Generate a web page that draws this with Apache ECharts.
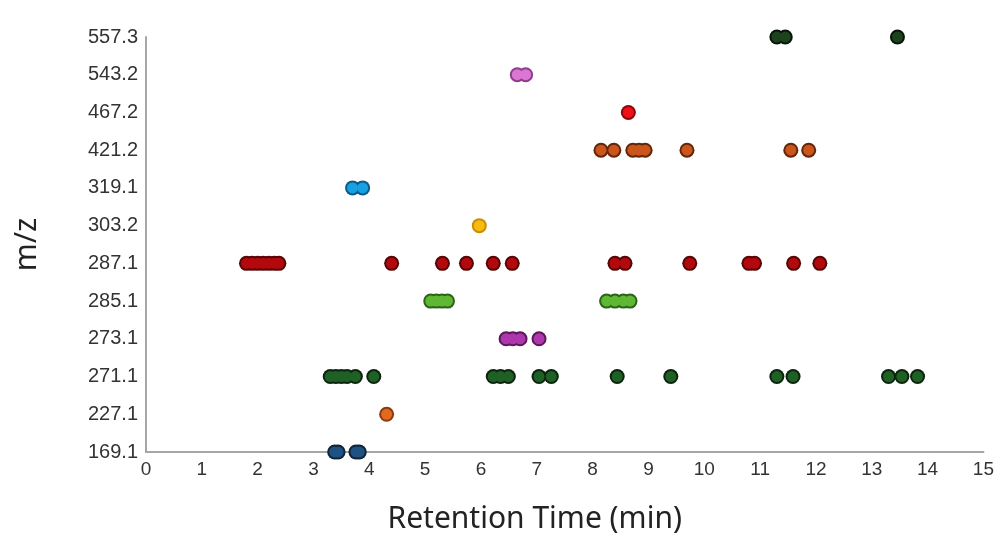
<!DOCTYPE html>
<html>
<head>
<meta charset="utf-8">
<script src="https://cdn.jsdelivr.net/npm/echarts@6/dist/echarts.min.js"></script>
<style>
  html, body { margin: 0; padding: 0; background: #fff; }
  #chart { width: 997px; height: 539px; }
</style>
</head>
<body>
<div id="chart"></div>
<script>
// m/z categories, bottom to top
var mzLabels = ['169.1', '227.1', '271.1', '273.1', '285.1', '287.1', '303.2', '319.1', '421.2', '467.2', '543.2', '557.3'];

// retention times (min), one list per m/z
var rt169 = [3.38, 3.44, 3.76, 3.82];
var rt227 = [4.31];
var rt271 = [3.3, 3.4, 3.5, 3.6, 3.75, 4.08, 6.22, 6.35, 6.49, 7.04, 7.26, 8.44, 9.4, 11.3, 11.59, 13.3, 13.54, 13.82];
var rt273 = [6.45, 6.57, 6.7, 7.04];
var rt285 = [5.1, 5.2, 5.3, 5.4, 8.25, 8.4, 8.55, 8.67];
var rt287 = [1.8, 1.9, 2.0, 2.1, 2.2, 2.3, 2.38, 4.4, 5.31, 5.74, 6.22, 6.56, 8.4, 8.58, 9.74, 10.8, 10.9, 11.6, 12.07];
var rt303 = [5.97];
var rt319 = [3.7, 3.88];
var rt421 = [8.15, 8.38, 8.72, 8.83, 8.94, 9.69, 11.55, 11.87];
var rt467 = [8.64];
var rt543 = [6.65, 6.8];
var rt557 = [11.3, 11.45, 13.46];

// fill, outline
var colors = {
  '169.1': ['#1d5282', '#0f2236'],
  '227.1': ['#e2691e', '#8a3a10'],
  '271.1': ['#1f6124', '#0c240e'],
  '273.1': ['#ae37ad', '#5a1858'],
  '285.1': ['#5fb834', '#2c6416'],
  '287.1': ['#b3090d', '#560606'],
  '303.2': ['#f8bb12', '#c98f00'],
  '319.1': ['#18a0e2', '#0b5c8a'],
  '421.2': ['#cb561b', '#62260a'],
  '467.2': ['#ee1016', '#8c0808'],
  '543.2': ['#da76d4', '#8e3e8a'],
  '557.3': ['#1c421e', '#081509']
};

var rtByMz = {
  '169.1': rt169, '227.1': rt227, '271.1': rt271, '273.1': rt273,
  '285.1': rt285, '287.1': rt287, '303.2': rt303, '319.1': rt319,
  '421.2': rt421, '467.2': rt467, '543.2': rt543, '557.3': rt557
};

// each m/z drawn twice: dark outline underneath, fill on top, so runs merge into pills
var series = [];
mzLabels.forEach(function (mz) {
  var pts = rtByMz[mz].map(function (t) { return [t, mz]; });
  series.push({
    name: mz,
    type: 'scatter',
    silent: true,
    symbolSize: 15,
    z: 2,
    itemStyle: { color: colors[mz][1], opacity: 1 },
    data: pts
  });
  series.push({
    name: mz,
    type: 'scatter',
    silent: true,
    symbolSize: 11,
    z: 3,
    itemStyle: { color: colors[mz][0], opacity: 1 },
    data: pts
  });
});

var myChart = echarts.init(document.getElementById('chart'));
myChart.setOption({
  backgroundColor: '#fff',
  animation: false,
  grid: { left: 146, right: 12, top: 37, bottom: 85 },
  xAxis: {
    type: 'value',
    min: 0,
    max: 15,
    interval: 1,
    name: 'Retention Time (min)',
    nameLocation: 'middle',
    nameGap: 52,
    nameTextStyle: { fontFamily: 'Noto Sans', fontSize: 30, color: '#222', padding: [0, 60, 0, 0] },
    axisLine: { show: true, lineStyle: { color: '#a6a6a6', width: 2 } },
    axisTick: { show: false },
    splitLine: { show: false },
    axisLabel: { fontFamily: 'Liberation Sans', fontSize: 19, color: '#333', margin: 8 }
  },
  yAxis: {
    type: 'category',
    data: mzLabels,
    boundaryGap: false,
    name: 'm/z',
    nameLocation: 'middle',
    nameGap: 104,
    nameTextStyle: { fontFamily: 'Noto Sans', fontSize: 30, color: '#222' },
    axisLine: { show: true, lineStyle: { color: '#a6a6a6', width: 2 } },
    axisTick: { show: false },
    splitLine: { show: false },
    axisLabel: { fontFamily: 'Liberation Sans', fontSize: 20, color: '#333', margin: 8 }
  },
  series: series
});
</script>
</body>
</html>
